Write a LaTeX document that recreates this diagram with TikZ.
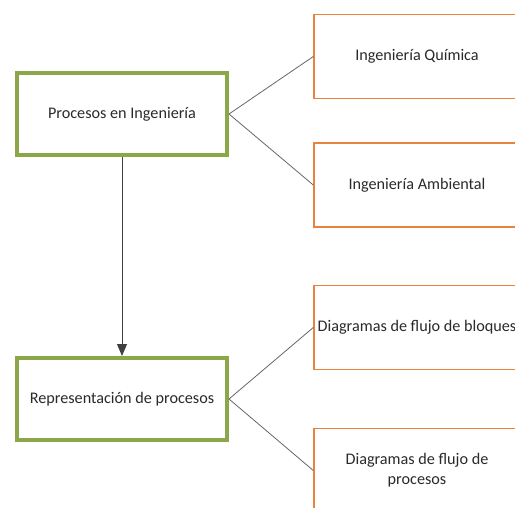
\documentclass[tikz,border=0pt]{standalone}
\usepackage{fontspec}
\setmainfont{Carlito}
\usetikzlibrary{arrows.meta}
\definecolor{boxgreen}{HTML}{8CA64A}
\definecolor{boxorange}{HTML}{E8823C}
\definecolor{txt}{HTML}{2A2A2A}
\begin{document}
\begin{tikzpicture}[x=1pt,y=-1pt,
  every node/.style={font=\fontsize{16.2}{20}\selectfont, text=txt, align=center},
  greenbox/.style={draw=boxgreen, line width=4pt, fill=white, minimum width=210pt, minimum height=82pt, inner sep=0pt},
  orangebox/.style={draw=boxorange, line width=1.4pt, fill=white, minimum width=206pt, minimum height=84pt, inner sep=0pt},
  conn/.style={draw=black!60, line width=0.8pt},
  arr/.style={draw=black!75, line width=0.9pt, -{Triangle[length=12pt,width=10pt]}}]
\useasboundingbox (0,0) rectangle (515,507);
\node[greenbox] (p) at (122,114) {Procesos en Ingeniería};
\node[greenbox] (r) at (122,399) {Representación de procesos};
\node[orangebox] (q) at (417,56.5) {Ingeniería Química};
\node[orangebox] (a) at (417,185) {Ingeniería Ambiental};
\node[orangebox] (b) at (417,327.5) {Diagramas de flujo de bloques};
\node[orangebox] (f) at (417,470.5) {Diagramas de flujo de\\procesos};
\draw[conn] (p.east) -- (q.west);
\draw[conn] (p.east) -- (a.west);
\draw[conn] (r.east) -- (b.west);
\draw[conn] (r.east) -- (f.west);
\draw[arr] (p.south) -- (r.north);
\end{tikzpicture}
\end{document}
